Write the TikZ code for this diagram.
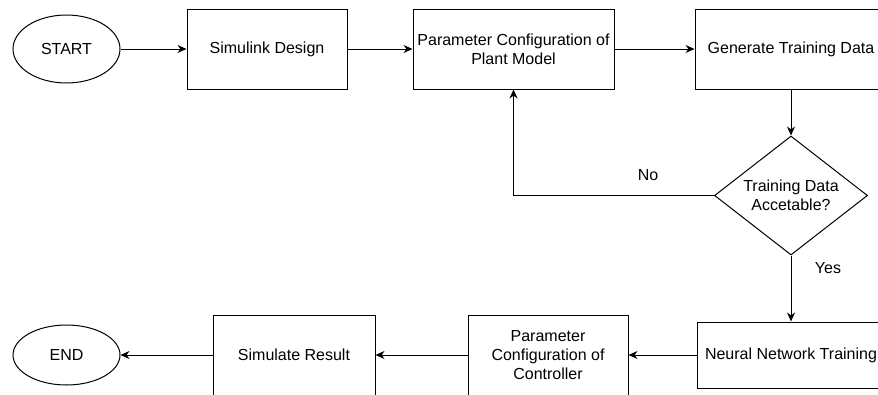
\documentclass[tikz,border=0pt]{standalone}
\usepackage{fontspec}
\setmainfont{Liberation Sans}
\usetikzlibrary{shapes.geometric,arrows.meta}
\begin{document}
\begin{tikzpicture}[x=1pt,y=-1pt,
  every node/.style={font=\fontsize{16}{19}\selectfont},
  boxnode/.style={draw, rectangle, line width=1pt, inner sep=0pt, align=center},
  ovalnode/.style={draw, ellipse, line width=1pt, inner sep=0pt, minimum width=107pt},
  decnode/.style={draw, diamond, line width=1pt, inner sep=0pt, minimum width=153pt, minimum height=119pt},
  flow/.style={line width=1pt, -{Stealth[length=9pt,width=8pt]}},
  plain/.style={line width=1pt}]
\useasboundingbox (0,0) rectangle (878,394);
\clip (0,0) rectangle (878,394);
\node[ovalnode, minimum height=68pt] (start) at (66.5,49) {START};
\node[boxnode, minimum width=160pt, minimum height=80pt] (sim) at (267,49) {Simulink Design};
\node[boxnode, minimum width=201pt, minimum height=80pt] (ppm) at (513.5,49) {Parameter Configuration of\\Plant Model};
\node[boxnode, minimum width=192pt, minimum height=80pt] (gen) at (791,49) {Generate Training Data};
\node[decnode] (dec) at (791,195.5) {};
\node[align=center, inner sep=0pt] (dectext) at (dec.center) {Training Data\\Accetable?};
\node[boxnode, minimum width=188pt, minimum height=66pt] (nn) at (791,355) {Neural Network Training};
\node[boxnode, minimum width=160pt, minimum height=80pt] (ctrl) at (548,355) {Parameter\\Configuration of\\Controller};
\node[boxnode, minimum width=162pt, minimum height=80pt] (simr) at (294,355) {Simulate Result};
\node[ovalnode, minimum height=60pt] (endn) at (66.5,355) {END};
\node (nolab) at (648,175) {No};
\node (yeslab) at (828,268) {Yes};
\draw[flow] (start.east) -- (sim.west);
\draw[flow] (sim.east) -- (ppm.west);
\draw[flow] (ppm.east) -- (gen.west);
\draw[flow] (gen.south) -- (dec.north);
\draw[flow] (dec.west) -| (ppm.south);
\draw[flow] (dec.south) -- (nn.north);
\draw[flow] (nn.west) -- (ctrl.east);
\draw[flow] (ctrl.west) -- (simr.east);
\draw[flow] (simr.west) -- (endn.east);
\end{tikzpicture}
\end{document}
